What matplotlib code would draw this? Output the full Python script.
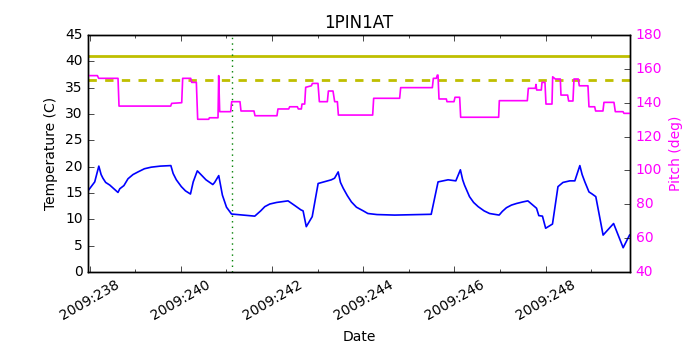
import matplotlib
matplotlib.use('Agg')
import matplotlib.pyplot as plt
from matplotlib.ticker import MultipleLocator, FuncFormatter

# temperature (day of 2009, deg C)
temp_days = [237.98, 238.11, 238.20, 238.25, 238.29, 238.35, 238.44, 238.53, 238.62,
             238.66, 238.75, 238.84, 238.95, 239.06, 239.20, 239.35, 239.55, 239.78,
             239.83, 239.90, 240.01, 240.10, 240.21, 240.27, 240.36, 240.45, 240.55,
             240.70, 240.74, 240.83, 240.91, 241.00, 241.11, 241.62, 241.75, 241.84,
             241.95, 242.10, 242.35, 242.50, 242.63, 242.68, 242.75, 242.88, 243.01,
             243.30, 243.37, 243.45, 243.50, 243.56, 243.65, 243.74, 243.85, 244.00,
             244.10, 244.30, 244.69, 245.49, 245.64, 245.86, 246.03, 246.13, 246.18,
             246.22, 246.33, 246.42, 246.52, 246.65, 246.77, 246.98, 247.05, 247.14,
             247.25, 247.36, 247.50, 247.61, 247.80, 247.85, 247.93, 248.00, 248.15,
             248.27, 248.38, 248.53, 248.64, 248.75, 248.80, 248.86, 248.95, 249.02,
             249.10, 249.26, 249.49, 249.70, 249.84]
temp_vals = [15.6, 17.1, 20.1, 18.5, 17.8, 17.0, 16.5, 15.8, 15.1,
             15.8, 16.4, 17.7, 18.5, 19.0, 19.6, 19.9, 20.1, 20.2,
             18.7, 17.5, 16.2, 15.4, 14.8, 17.1, 19.2, 18.4, 17.5,
             16.6, 17.0, 18.3, 14.6, 12.3, 11.0, 10.6, 11.6, 12.4,
             12.9, 13.2, 13.5, 12.6, 11.8, 11.6, 8.6, 10.5, 16.8,
             17.5, 17.8, 19.0, 17.0, 15.9, 14.5, 13.3, 12.3, 11.6,
             11.1, 10.9, 10.8, 10.95, 17.1, 17.5, 17.3, 19.4, 17.5,
             16.5, 14.3, 13.2, 12.4, 11.6, 11.1, 10.8, 11.5, 12.2,
             12.7, 13.0, 13.3, 13.5, 12.1, 10.7, 10.6, 8.3, 9.1,
             16.2, 17.0, 17.3, 17.3, 20.2, 18.5, 17.1, 15.2, 14.8,
             14.3, 7.0, 9.2, 4.6, 7.0]

# pitch (day of 2009, deg)
pitch_days = [237.978, 238.168, 238.197, 238.621, 238.643, 239.776, 239.798, 240.018,
              240.039, 240.215, 240.237, 240.339, 240.368, 240.610, 240.625, 240.814,
              240.829, 240.851, 241.092, 241.114, 241.296, 241.318, 241.603, 241.625,
              242.107, 242.129, 242.364, 242.386, 242.554, 242.576, 242.642, 242.656,
              242.715, 242.737, 242.862, 242.884, 243.007, 243.037, 243.212, 243.235,
              243.336, 243.373, 243.432, 243.454, 244.206, 244.228, 244.798, 244.820,
              245.515, 245.537, 245.602, 245.624, 245.639, 245.661, 245.822, 245.836,
              245.990, 246.012, 246.114, 246.136, 246.969, 246.984, 247.598, 247.620,
              247.774, 247.788, 247.803, 247.905, 247.920, 247.985, 248.007, 248.139,
              248.154, 248.212, 248.322, 248.336, 248.482, 248.504, 248.599, 248.621,
              248.716, 248.738, 248.928, 248.950, 249.075, 249.096, 249.257, 249.279,
              249.498, 249.528, 249.696, 249.718, 249.842]
pitch_vals = [156.0, 156.0, 154.4, 154.4, 138.0, 138.0, 139.6, 140.0,
              154.4, 154.4, 152.0, 152.0, 130.2, 130.2, 131.1, 131.1,
              156.0, 134.7, 134.7, 140.6, 140.6, 135.1, 135.1, 132.3,
              132.3, 136.3, 136.3, 137.6, 137.6, 136.3, 136.3, 139.2,
              139.2, 149.1, 150.0, 151.4, 151.4, 140.6, 140.6, 146.9,
              146.9, 140.6, 140.6, 132.7, 132.7, 142.6, 142.6, 148.9,
              148.9, 154.4, 154.4, 156.3, 156.3, 142.2, 142.2, 140.6,
              140.6, 143.2, 143.2, 131.4, 131.4, 141.2, 141.2, 148.5,
              148.5, 150.8, 147.5, 147.5, 152.0, 152.0, 139.2, 139.2,
              155.3, 154.0, 154.0, 144.5, 144.5, 141.0, 141.0, 154.0,
              154.0, 150.0, 150.0, 137.6, 137.6, 135.1, 135.1, 140.2,
              140.2, 134.7, 134.7, 133.7, 133.7]

planning_limit = 36.5
caution_limit = 41.0
marker_day = 241.11

plt.style.use('classic')
plt.rcParams['font.size'] = 10

fig = plt.figure(figsize=(7, 3.5), dpi=100)
fig.subplots_adjust(left=0.126, right=0.9, top=0.9, bottom=0.223)
ax = fig.add_subplot(111)

ax.plot(temp_days, temp_vals, color='b', lw=1.2)
ax.axhline(caution_limit, color='y', lw=2)
ax.axhline(planning_limit, color='y', lw=2, ls='--')
ax.axvline(marker_day, color='g', ls=':', lw=1)

ax.set_xlim(237.967, 249.85)
ax.set_ylim(0, 45)
ax.yaxis.set_major_locator(MultipleLocator(5))
ax.xaxis.set_major_locator(MultipleLocator(2))
ax.xaxis.set_minor_locator(MultipleLocator(1))
ax.xaxis.set_major_formatter(FuncFormatter(lambda d, pos: '2009:%03d' % int(round(d))))
for lab in ax.get_xticklabels():
    lab.set_rotation(30)
ax.set_xlabel('Date')
ax.set_ylabel('Temperature (C)')
ax.set_title('1PIN1AT', fontsize=12)

ax2 = ax.twinx()
ax2.plot(pitch_days, pitch_vals, color='#FF00FF', lw=1.2)
ax2.set_ylim(40, 180)
ax2.yaxis.set_major_locator(MultipleLocator(20))
ax2.set_ylabel('Pitch (deg)', color='#FF00FF')
ax2.tick_params(axis='y', labelcolor='#FF00FF')
ax2.set_xlim(237.967, 249.85)

fig.savefig('out.png', dpi=100, facecolor='white')
